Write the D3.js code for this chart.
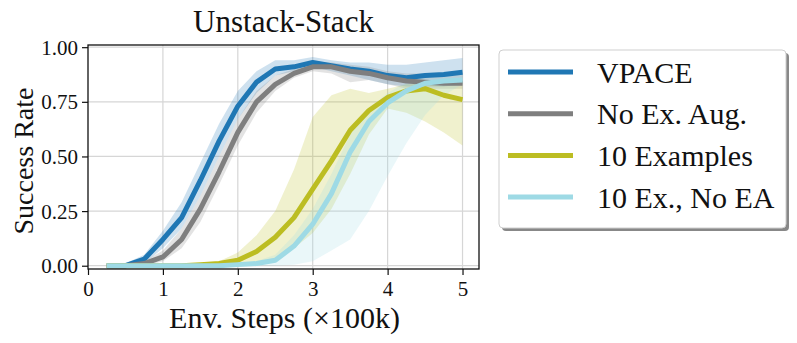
<!DOCTYPE html>
<html>
<head>
<meta charset="utf-8">
<script src="https://cdn.jsdelivr.net/npm/d3@7"></script>
<style>
  body { margin: 0; background: #fff; }
  svg { display: block; }
  text { font-family: "Liberation Serif", "DejaVu Serif", serif; fill: #111; }
</style>
</head>
<body>
<div id="chart"></div>
<script>
const width = 797;
const height = 343;

// env steps (x100k)
const steps = [0.25, 0.5, 0.75, 1.0, 1.25, 1.5, 1.75, 2.0, 2.25, 2.5, 2.75, 3.0, 3.25, 3.5, 3.75, 4.0, 4.25, 4.5, 4.75, 5.0];

const vpace     = [0, 0, 0.03, 0.12, 0.22, 0.39, 0.57, 0.73, 0.84, 0.9, 0.91, 0.93, 0.915, 0.9, 0.89, 0.87, 0.86, 0.87, 0.875, 0.885];
const vpaceLo   = [0, 0, 0.01, 0.08, 0.17, 0.32, 0.5, 0.67, 0.79, 0.87, 0.89, 0.91, 0.89, 0.87, 0.85, 0.83, 0.82, 0.82, 0.82, 0.83];
const vpaceHi   = [0, 0.01, 0.05, 0.16, 0.29, 0.47, 0.65, 0.8, 0.89, 0.94, 0.94, 0.955, 0.94, 0.93, 0.93, 0.92, 0.92, 0.93, 0.94, 0.95];

const noExAug   = [0, 0, 0.01, 0.04, 0.12, 0.26, 0.43, 0.61, 0.75, 0.83, 0.88, 0.91, 0.91, 0.89, 0.88, 0.86, 0.845, 0.84, 0.835, 0.835];
const noExAugLo = [0, 0, 0, 0.02, 0.08, 0.2, 0.37, 0.55, 0.7, 0.8, 0.86, 0.89, 0.88, 0.84, 0.85, 0.83, 0.81, 0.81, 0.81, 0.81];
const noExAugHi = [0, 0.01, 0.02, 0.07, 0.17, 0.32, 0.5, 0.67, 0.8, 0.87, 0.9, 0.93, 0.93, 0.92, 0.91, 0.89, 0.88, 0.88, 0.88, 0.88];

const tenEx     = [0, 0, 0, 0, 0, 0.005, 0.01, 0.025, 0.065, 0.13, 0.22, 0.35, 0.48, 0.62, 0.71, 0.77, 0.8, 0.81, 0.78, 0.76];
const tenExLo   = [0, 0, 0, 0, 0, 0, 0, 0, 0.01, 0.03, 0.08, 0.15, 0.26, 0.42, 0.6, 0.72, 0.7, 0.66, 0.61, 0.55];
const tenExHi   = [0, 0, 0, 0, 0.002, 0.008, 0.02, 0.06, 0.14, 0.25, 0.44, 0.68, 0.78, 0.81, 0.79, 0.81, 0.83, 0.84, 0.84, 0.84];

const tenExNoEA   = [0, 0, 0, 0, 0, 0, 0, 0.005, 0.01, 0.025, 0.09, 0.19, 0.33, 0.52, 0.66, 0.745, 0.8, 0.835, 0.845, 0.85];
const tenExNoEALo = [0, 0, 0, 0, 0, 0, 0, 0, 0, 0, 0.005, 0.02, 0.07, 0.12, 0.25, 0.41, 0.56, 0.69, 0.78, 0.83];
const tenExNoEAHi = [0, 0, 0, 0, 0, 0, 0, 0.01, 0.02, 0.05, 0.14, 0.26, 0.42, 0.6, 0.72, 0.79, 0.84, 0.87, 0.87, 0.87];

const seriesNames = ["VPACE", "No Ex. Aug.", "10 Examples", "10 Ex., No EA"];
const seriesColors = ["#1f77b4", "#7f7f7f", "#bcbd22", "#9edae5"];

const xTicks = [0, 1, 2, 3, 4, 5];
const yTicks = [0, 0.25, 0.5, 0.75, 1.0];

const series = [
  { name: seriesNames[0], color: seriesColors[0], mean: vpace, lo: vpaceLo, hi: vpaceHi },
  { name: seriesNames[1], color: seriesColors[1], mean: noExAug, lo: noExAugLo, hi: noExAugHi },
  { name: seriesNames[2], color: seriesColors[2], mean: tenEx, lo: tenExLo, hi: tenExHi },
  { name: seriesNames[3], color: seriesColors[3], mean: tenExNoEA, lo: tenExNoEALo, hi: tenExNoEAHi },
];

const margin = { left: 88, right: 797 - 479, top: 45, bottom: 343 - 269 };

const svg = d3.select("#chart")
  .append("svg")
  .attr("width", width)
  .attr("height", height);

const x = d3.scaleLinear()
  .domain([0, 5.22])
  .range([margin.left, width - margin.right]);

const y = d3.scaleLinear()
  .domain([-0.015, 1.01])
  .range([height - margin.bottom, margin.top]);

// grid
const grid = svg.append("g").attr("stroke", "#d6d6d6").attr("stroke-width", 1.2);
grid.selectAll("line.gx")
  .data(xTicks.slice(1))
  .join("line")
  .attr("x1", d => x(d)).attr("x2", d => x(d))
  .attr("y1", y.range()[0]).attr("y2", y.range()[1]);
grid.selectAll("line.gy")
  .data(yTicks)
  .join("line")
  .attr("class", "gy")
  .attr("x1", x.range()[0]).attr("x2", x.range()[1])
  .attr("y1", d => y(d)).attr("y2", d => y(d));

const plot = svg.append("g");

const area = s => d3.area()
  .x((d, i) => x(steps[i]))
  .y0((d, i) => y(s.lo[i]))
  .y1((d, i) => y(s.hi[i]));

const line = s => d3.line()
  .x((d, i) => x(steps[i]))
  .y((d, i) => y(s.mean[i]));

series.forEach(s => {
  plot.append("path")
    .attr("d", area(s)(s.mean))
    .attr("fill", s.color)
    .attr("fill-opacity", 0.22)
    .attr("stroke", "none");
});

series.forEach(s => {
  plot.append("path")
    .attr("d", line(s)(s.mean))
    .attr("fill", "none")
    .attr("stroke", s.color)
    .attr("stroke-width", 5)
    .attr("stroke-linejoin", "round");
});

// axes
const xAxis = svg.append("g")
  .attr("transform", `translate(0,${height - margin.bottom})`)
  .call(d3.axisBottom(x).tickValues(xTicks).tickFormat(d3.format("d")).tickSize(6).tickSizeOuter(0));
const yAxis = svg.append("g")
  .attr("transform", `translate(${margin.left},0)`)
  .call(d3.axisLeft(y).tickValues(yTicks).tickFormat(d3.format(".2f")).tickSize(6).tickSizeOuter(0));

[xAxis, yAxis].forEach(a => {
  a.selectAll("path.domain").remove();
  a.selectAll("line").attr("stroke", "#111").attr("stroke-width", 1.2);
  a.selectAll("text").style("font-size", "21px").attr("fill", "#111");
});
xAxis.selectAll("text").attr("y", 12).attr("dy", "0.71em");
yAxis.selectAll("text").attr("dy", "0.33em").attr("x", -10);

// frame
svg.append("rect")
  .attr("x", x.range()[0]).attr("y", y.range()[1])
  .attr("width", x.range()[1] - x.range()[0])
  .attr("height", y.range()[0] - y.range()[1])
  .attr("fill", "none")
  .attr("stroke", "#111")
  .attr("stroke-width", 1.3);

// title and labels
svg.append("text")
  .attr("x", (x.range()[0] + x.range()[1]) / 2)
  .attr("y", 32)
  .attr("text-anchor", "middle")
  .style("font-size", "31px")
  .text("Unstack-Stack");

svg.append("text")
  .attr("x", (x.range()[0] + x.range()[1]) / 2 + 1)
  .attr("y", 328)
  .attr("text-anchor", "middle")
  .style("font-size", "30px")
  .text("Env. Steps (×100k)");

svg.append("text")
  .attr("transform", `translate(33,${(y.range()[0] + y.range()[1]) / 2 + 4}) rotate(-90)`)
  .attr("text-anchor", "middle")
  .style("font-size", "28px")
  .text("Success Rate");

// legend
const lg = svg.append("g").attr("transform", "translate(499,50)");
lg.append("rect")
  .attr("x", 3).attr("y", 3)
  .attr("width", 287).attr("height", 178)
  .attr("rx", 4)
  .attr("fill", "#888");
lg.append("rect")
  .attr("width", 287).attr("height", 178)
  .attr("rx", 4)
  .attr("fill", "#fff")
  .attr("stroke", "#cfcfcf")
  .attr("stroke-width", 1);

const rows = lg.selectAll("g.row")
  .data(series)
  .join("g")
  .attr("transform", (d, i) => `translate(0,${22 + i * 41.7})`);
rows.append("line")
  .attr("x1", 9).attr("x2", 74)
  .attr("stroke", d => d.color)
  .attr("stroke-width", 5);
rows.append("text")
  .attr("x", 98)
  .attr("dy", "0.35em")
  .style("font-size", "30px")
  .text(d => d.name);
</script>
</body>
</html>
